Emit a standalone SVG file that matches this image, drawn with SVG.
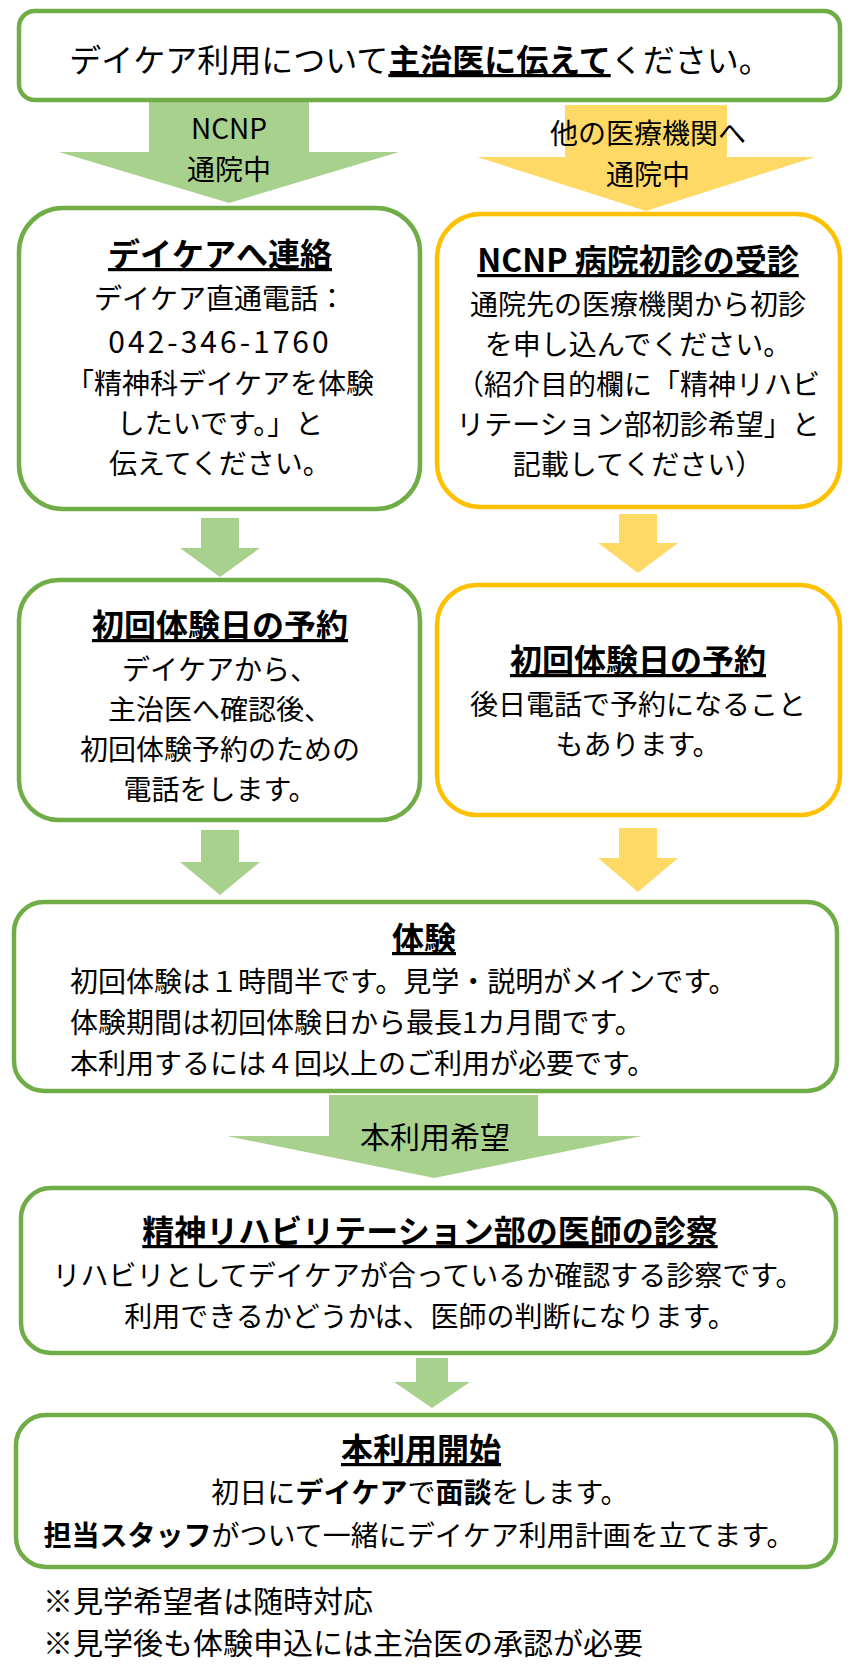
<svg xmlns="http://www.w3.org/2000/svg" width="857" height="1669" viewBox="0 0 857 1669">
<style>
.box{fill:#fff;stroke-width:4.5}
.g{stroke:#70AD47}
.y{stroke:#FFC000}
.ga{fill:#A9D18E}
.ya{fill:#FFD966}
text{font-family:"Noto Sans CJK JP","Noto Sans CJK SC",sans-serif;fill:#000}
.t{font-size:32px;font-weight:bold;text-decoration:underline}
.b{font-size:28px}
.c{text-anchor:middle}
.lab{font-size:28px;text-anchor:middle}
.bold{font-weight:bold}
</style>
<rect width="857" height="1669" fill="#fff"/>
<g id="connectors">
<polygon class="ga" points="149,101 309,101 309,152 399,152 229,203 59,152 149,152"/>
<polygon class="ya" points="565,105 727,105 727,157 815,157 646,211 477,157 565,157"/>
<polygon class="ga" points="201,518 239,518 239,548 260,548 220,577 180,548 201,548"/>
<polygon class="ya" points="619,514 657,514 657,543 678,543 638,573 598,543 619,543"/>
<polygon class="ga" points="201,830 239,830 239,862 260,862 220,895 180,862 201,862"/>
<polygon class="ya" points="619,828 657,828 657,858 678,858 638,892 598,858 619,858"/>
<polygon class="ga" points="329,1095 538,1095 538,1136 642,1136 434,1178 227,1136 329,1136"/>
<polygon class="ga" points="416,1358 448,1358 448,1382 470,1382 432,1408 394,1382 416,1382"/>
<text class="lab" x="229" y="139">NCNP</text>
<text class="lab" x="229" y="180">通院中</text>
<text class="lab" x="648" y="144">他の医療機関へ</text>
<text class="lab" x="648" y="185">通院中</text>
<text class="lab" x="435" y="1148" style="font-size:30px">本利用希望</text>
</g>
<g id="n-top">
<rect class="box g" x="19" y="11" width="821" height="89" rx="16"/>
<text x="420" y="72" class="c" style="font-size:32px">デイケア利用について<tspan class="bold" text-decoration="underline">主治医に伝えて</tspan>ください。</text>
</g>
<g id="n-contact">
<rect class="box g" x="19" y="208" width="401" height="301" rx="44"/>
<text class="t c" x="220" y="266">デイケアへ連絡</text>
<text class="b c" x="220" y="309">デイケア直通電話：</text>
<text class="c" x="220" y="353" style="font-size:30px;letter-spacing:3px">042-346-1760</text>
<text class="b c" x="220" y="394">「精神科デイケアを体験</text>
<text class="b c" x="220" y="434">したいです。」と</text>
<text class="b c" x="220" y="474">伝えてください。</text>
</g>
<g id="n-first-visit">
<rect class="box y" x="437" y="214" width="403" height="293" rx="44"/>
<text class="t c" x="638" y="272">NCNP 病院初診の受診</text>
<text class="b c" x="638" y="315">通院先の医療機関から初診</text>
<text class="b c" x="638" y="355">を申し込んでください。</text>
<text class="b c" x="638" y="395">（紹介目的欄に「精神リハビ</text>
<text class="b c" x="638" y="435">リテーション部初診希望」と</text>
<text class="b c" x="638" y="475">記載してください）</text>
</g>
<g id="n-reserve-left">
<rect class="box g" x="19" y="580" width="401" height="240" rx="40"/>
<text class="t c" x="220" y="637">初回体験日の予約</text>
<text class="b c" x="220" y="680">デイケアから、</text>
<text class="b c" x="220" y="720">主治医へ確認後、</text>
<text class="b c" x="220" y="760">初回体験予約のための</text>
<text class="b c" x="220" y="800">電話をします。</text>
</g>
<g id="n-reserve-right">
<rect class="box y" x="437" y="585" width="403" height="230" rx="40"/>
<text class="t c" x="638" y="672">初回体験日の予約</text>
<text class="b c" x="638" y="715">後日電話で予約になること</text>
<text class="b c" x="638" y="755">もあります。</text>
</g>
<g id="n-trial">
<rect class="box g" x="14" y="902" width="823" height="189" rx="30"/>
<text class="t c" x="424" y="950">体験</text>
<text class="b" x="70" y="992">初回体験は１時間半です。見学・説明がメインです。</text>
<text class="b" x="70" y="1033">体験期間は初回体験日から最長1カ月間です。</text>
<text class="b" x="70" y="1074">本利用するには４回以上のご利用が必要です。</text>
</g>
<g id="n-exam">
<rect class="box g" x="21" y="1188" width="815" height="165" rx="30"/>
<text class="t c" x="430" y="1243">精神リハビリテーション部の医師の診察</text>
<text class="b c" x="428" y="1286">リハビリとしてデイケアが合っているか確認する診察です。</text>
<text class="b c" x="430" y="1327">利用できるかどうかは、医師の判断になります。</text>
</g>
<g id="n-start">
<rect class="box g" x="16" y="1415" width="820" height="152" rx="30"/>
<text class="t c" x="421" y="1461">本利用開始</text>
<text class="b c" x="420" y="1503">初日に<tspan class="bold">デイケア</tspan>で<tspan class="bold">面談</tspan>をします。</text>
<text class="b c" x="419" y="1546"><tspan class="bold">担当スタッフ</tspan>がついて一緒にデイケア利用計画を立てます。</text>
</g>
<g id="notes">
<text x="43" y="1612" style="font-size:30px">※見学希望者は随時対応</text>
<text x="43" y="1654" style="font-size:30px">※見学後も体験申込には主治医の承認が必要</text>
</g>
</svg>
